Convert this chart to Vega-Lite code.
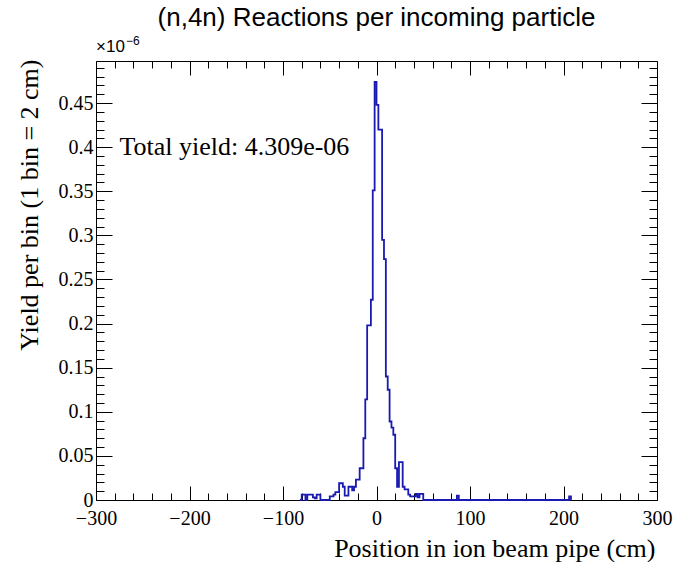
{
  "$schema": "https://vega.github.io/schema/vega-lite/v6.json",
  "width": 561,
  "height": 439,
  "autosize": "none",
  "padding": {"left": 96, "top": 61, "right": 21, "bottom": 62},
  "background": "white",
  "config": {
    "view": {"stroke": "black", "strokeWidth": 1},
    "axis": {"grid": false, "domain": false, "tickColor": "black", "tickWidth": 1, "labelColor": "black", "labelFont": "Liberation Serif", "labelFontSize": 20, "titleFont": "Liberation Serif", "titleFontSize": 26, "titleFontWeight": "normal", "titleColor": "black", "labelOverlap": false, "labelFlush": false, "labelBound": false}
  },
  "title": {"text": "(n,4n) Reactions per incoming particle", "font": "Liberation Sans", "fontSize": 26, "fontWeight": "normal", "color": "black", "anchor": "middle", "baseline": "bottom", "offset": -22},
  "data": {"values": [
    {"pos": -82, "yield": 0},
    {"pos": -80, "yield": 0.006},
    {"pos": -78, "yield": 0.006},
    {"pos": -76, "yield": 0},
    {"pos": -74, "yield": 0.006},
    {"pos": -72, "yield": 0.006},
    {"pos": -70, "yield": 0.006},
    {"pos": -68, "yield": 0.003},
    {"pos": -66, "yield": 0.002},
    {"pos": -64, "yield": 0.006},
    {"pos": -62, "yield": 0.006},
    {"pos": -60, "yield": 0},
    {"pos": -58, "yield": 0},
    {"pos": -56, "yield": 0},
    {"pos": -54, "yield": 0},
    {"pos": -52, "yield": 0},
    {"pos": -50, "yield": 0.004},
    {"pos": -48, "yield": 0.004},
    {"pos": -46, "yield": 0.006},
    {"pos": -44, "yield": 0.009},
    {"pos": -42, "yield": 0.009},
    {"pos": -40, "yield": 0.019},
    {"pos": -38, "yield": 0.019},
    {"pos": -36, "yield": 0.015},
    {"pos": -34, "yield": 0.005},
    {"pos": -32, "yield": 0.005},
    {"pos": -30, "yield": 0.015},
    {"pos": -28, "yield": 0.015},
    {"pos": -26, "yield": 0.011},
    {"pos": -24, "yield": 0.015},
    {"pos": -22, "yield": 0.023},
    {"pos": -20, "yield": 0.023},
    {"pos": -18, "yield": 0.036},
    {"pos": -16, "yield": 0.036},
    {"pos": -14, "yield": 0.07},
    {"pos": -12, "yield": 0.114},
    {"pos": -10, "yield": 0.198},
    {"pos": -8, "yield": 0.198},
    {"pos": -6, "yield": 0.227},
    {"pos": -4, "yield": 0.351},
    {"pos": -2, "yield": 0.474},
    {"pos": 0, "yield": 0.448},
    {"pos": 2, "yield": 0.42},
    {"pos": 4, "yield": 0.42},
    {"pos": 6, "yield": 0.295},
    {"pos": 8, "yield": 0.273},
    {"pos": 10, "yield": 0.14},
    {"pos": 12, "yield": 0.125},
    {"pos": 14, "yield": 0.089},
    {"pos": 16, "yield": 0.082},
    {"pos": 18, "yield": 0.074},
    {"pos": 20, "yield": 0.036},
    {"pos": 22, "yield": 0.015},
    {"pos": 24, "yield": 0.043},
    {"pos": 26, "yield": 0.043},
    {"pos": 28, "yield": 0.015},
    {"pos": 30, "yield": 0.012},
    {"pos": 32, "yield": 0.012},
    {"pos": 34, "yield": 0.006},
    {"pos": 36, "yield": 0.004},
    {"pos": 38, "yield": 0.004},
    {"pos": 40, "yield": 0.004},
    {"pos": 42, "yield": 0.007},
    {"pos": 44, "yield": 0.003},
    {"pos": 46, "yield": 0.007},
    {"pos": 48, "yield": 0.007},
    {"pos": 50, "yield": 0},
    {"pos": 86, "yield": 0.005},
    {"pos": 88, "yield": 0},
    {"pos": 206, "yield": 0.004},
    {"pos": 208, "yield": 0}
  ]},
  "layer": [
    {
      "mark": {"type": "line", "interpolate": "step-after", "color": "#1a1ab0", "strokeWidth": 1.8},
      "encoding": {
        "x": {"field": "pos", "type": "quantitative",
          "scale": {"domain": [-300, 300], "nice": false, "zero": false},
          "axis": {"orient": "bottom",
            "values": [-300,-280,-260,-240,-220,-200,-180,-160,-140,-120,-100,-80,-60,-40,-20,0,20,40,60,80,100,120,140,160,180,200,220,240,260,280,300],
            "labelExpr": "datum.value % 100 === 0 ? format(datum.value, 'd') : ''",
            "tickSize": {"condition": {"test": "datum.value % 100 === 0", "value": -14}, "value": -7},
            "labelPadding": 22,
            "title": "Position in ion beam pipe (cm)",
            "titleAnchor": "end", "titleAlign": "right", "titleX": 559, "titleY": 56, "titleBaseline": "alphabetic"}},
        "y": {"field": "yield", "type": "quantitative",
          "scale": {"domain": [0, 0.4977], "nice": false, "zero": false},
          "axis": {"orient": "left",
            "values": [0,0.01,0.02,0.03,0.04,0.05,0.06,0.07,0.08,0.09,0.1,0.11,0.12,0.13,0.14,0.15,0.16,0.17,0.18,0.19,0.2,0.21,0.22,0.23,0.24,0.25,0.26,0.27,0.28,0.29,0.3,0.31,0.32,0.33,0.34,0.35,0.36,0.37,0.38,0.39,0.4,0.41,0.42,0.43,0.44,0.45,0.46,0.47,0.48,0.49],
            "labelExpr": "abs(datum.value * 20 - round(datum.value * 20)) < 0.001 ? format(datum.value, '.2~f') : ''",
            "tickSize": {"condition": {"test": "abs(datum.value * 20 - round(datum.value * 20)) < 0.001", "value": -16}, "value": -8},
            "labelPadding": 19,
            "title": "Yield per bin (1 bin = 2 cm)",
            "titleAngle": -90, "titleAnchor": "end", "titleAlign": "right", "titleX": -59, "titleY": -2, "titleBaseline": "alphabetic"}}
      }
    },
    {
      "data": {"values": [{"label": "Total yield: 4.309e-06"}]},
      "mark": {"type": "text", "font": "Liberation Serif", "fontSize": 26, "align": "left", "baseline": "middle", "color": "black"},
      "encoding": {
        "text": {"field": "label"},
        "x": {"datum": -275, "type": "quantitative",
          "scale": {"domain": [-300, 300], "nice": false, "zero": false},
          "axis": {"orient": "top",
            "values": [-300,-280,-260,-240,-220,-200,-180,-160,-140,-120,-100,-80,-60,-40,-20,0,20,40,60,80,100,120,140,160,180,200,220,240,260,280,300],
            "labels": false, "title": null,
            "tickSize": {"condition": {"test": "datum.value % 100 === 0", "value": -14}, "value": -7}}},
        "y": {"datum": 0.4, "type": "quantitative",
          "scale": {"domain": [0, 0.4977], "nice": false, "zero": false},
          "axis": {"orient": "right",
            "values": [0,0.01,0.02,0.03,0.04,0.05,0.06,0.07,0.08,0.09,0.1,0.11,0.12,0.13,0.14,0.15,0.16,0.17,0.18,0.19,0.2,0.21,0.22,0.23,0.24,0.25,0.26,0.27,0.28,0.29,0.3,0.31,0.32,0.33,0.34,0.35,0.36,0.37,0.38,0.39,0.4,0.41,0.42,0.43,0.44,0.45,0.46,0.47,0.48,0.49],
            "labels": false, "title": null,
            "tickSize": {"condition": {"test": "abs(datum.value * 20 - round(datum.value * 20)) < 0.001", "value": -16}, "value": -8}}}
      }
    },
    {
      "data": {"values": [{"label": "×10"}]},
      "mark": {"type": "text", "font": "Liberation Sans", "fontSize": 17, "align": "left", "baseline": "middle", "color": "black", "clip": false},
      "encoding": {
        "text": {"field": "label"},
        "x": {"datum": -300, "type": "quantitative", "axis": null},
        "y": {"datum": 0.5136, "type": "quantitative", "axis": null}
      }
    },
    {
      "data": {"values": [{"label": "−6"}]},
      "mark": {"type": "text", "font": "Liberation Sans", "fontSize": 12, "align": "left", "baseline": "middle", "color": "black", "dx": 30, "dy": -6, "clip": false},
      "encoding": {
        "text": {"field": "label"},
        "x": {"datum": -300, "type": "quantitative", "axis": null},
        "y": {"datum": 0.5136, "type": "quantitative", "axis": null}
      }
    }
  ],
  "resolve": {"axis": {"x": "independent", "y": "independent"}}
}
